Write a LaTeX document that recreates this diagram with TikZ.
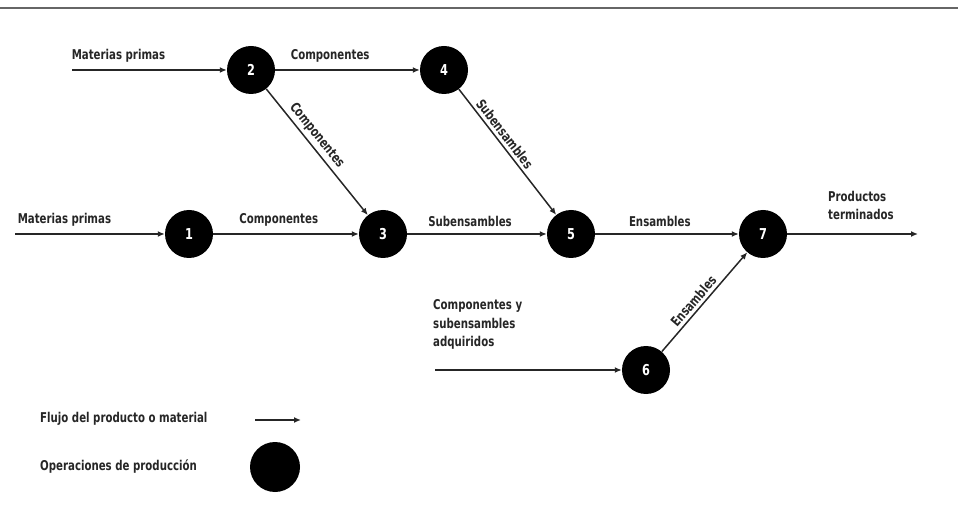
\documentclass[tikz,border=0pt]{standalone}
\usepackage{fontspec}
\setmainfont{DejaVu Sans Condensed}[BoldFont={DejaVu Sans Condensed Bold},FakeStretch=0.84]
\usetikzlibrary{arrows.meta}
\begin{document}
\begin{tikzpicture}[x=1pt,y=-1pt,
  op/.style={circle,fill=black,minimum size=48pt,inner sep=0pt,text=white,font=\bfseries\fontsize{15}{15}\selectfont},
  flow/.style={draw=black!85,line width=1.5pt,-{Latex[length=7pt,width=6pt]}},
  lbl/.style={font=\bfseries\fontsize{13.5}{18.5}\selectfont,text=black!85,inner sep=2pt},
  lbllist/.style={lbl,align=left}]
\useasboundingbox (0,0) rectangle (958,510);
% header rule
\draw[black!60,line width=2.5pt] (0,8) -- (958,8);
% operations
\node[op] (n2) at (251,70) {2};
\node[op] (n4) at (444,70) {4};
\node[op] (n1) at (189,234) {1};
\node[op] (n3) at (383,234) {3};
\node[op] (n5) at (571,234) {5};
\node[op] (n7) at (763,234) {7};
\node[op] (n6) at (646,370) {6};
% free ends of the flows
\coordinate (s2) at (72,70);
\coordinate (s1) at (15,234);
\coordinate (s6) at (435,370);
\coordinate (e7) at (918,234);
% flows
\draw[flow] (s2) -- node[lbl,above=5pt,pos=0.3] {Materias primas} (n2);
\draw[flow] (n2) -- node[lbl,above=5pt,pos=0.38] {Componentes} (n4);
\draw[flow] (s1) -- node[lbl,above=5pt,pos=0.33] {Materias primas} (n1);
\draw[flow] (n1) -- node[lbl,above=5pt,pos=0.45] {Componentes} (n3);
\draw[flow] (n3) -- node[lbl,above=5pt,pos=0.45] {Subensambles} (n5);
\draw[flow] (n5) -- node[lbl,above=5pt,pos=0.45] {Ensambles} (n7);
\draw[flow] (n7) -- (e7);
\node[lbllist,anchor=south west] (pt) at (826,222) {Productos\\terminados};
\draw[flow] (n2) -- node[lbl,above=1pt,sloped,pos=0.42] {Componentes} (n3);
\draw[flow] (n4) -- node[lbl,above=1pt,sloped,pos=0.40] {Subensambles} (n5);
\draw[flow] (s6) -- (n6);
\node[lbllist,anchor=south west] (ad) at (431,352) {Componentes y\\subensambles\\adquiridos};
\draw[flow] (n6) -- node[lbl,above=1pt,sloped,pos=0.45] {Ensambles} (n7);
% legend
\node[lbl,anchor=west] (lf) at (38,419) {Flujo del producto o material};
\coordinate (la) at (255,420);
\coordinate (lb) at (301,420);
\draw[flow] (la) -- (lb);
\node[lbl,anchor=west] (lo) at (38,467) {Operaciones de producción};
\node[op,minimum size=50pt] (lc) at (275,467) {};
\end{tikzpicture}
\end{document}
